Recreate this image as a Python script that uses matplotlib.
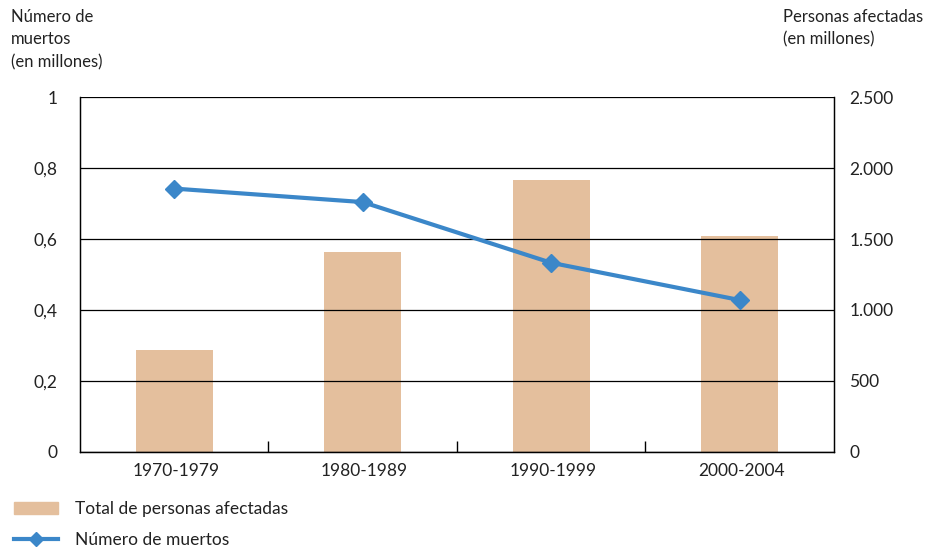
import matplotlib.pyplot as plt
from matplotlib.lines import Line2D
from matplotlib.patches import Patch
import numpy as np

plt.rcParams['font.family'] = ['Lato', 'DejaVu Sans']

periods = ["1970-1979", "1980-1989", "1990-1999", "2000-2004"]
afectados = [715, 1410, 1915, 1520]      # millones de personas (eje derecho)
muertos = [0.742, 0.704, 0.533, 0.428]   # millones (eje izquierdo)

bar_color = "#e4bf9d"
line_color = "#3b87c9"
txt = "#222222"
fs = 12.5

fig = plt.figure(figsize=(9.26, 5.49), dpi=100)
ax = fig.add_axes([0.0864, 0.1767, 0.8142, 0.6466])
ax2 = ax.twinx()

x = np.arange(len(periods))
ax2.bar(x, afectados, width=0.41, color=bar_color, zorder=2)
ax2.set_ylim(0, 2500)
ax2.set_yticks([0, 500, 1000, 1500, 2000, 2500])
ax2.set_yticklabels(["0", "500", "1.000", "1.500", "2.000", "2.500"])

ax.set_zorder(ax2.get_zorder() + 1)
ax.patch.set_visible(False)
ax.plot(x, muertos, color=line_color, lw=3, marker="D", markersize=9, zorder=3)
ax.set_ylim(0, 1)
ax.set_yticks([0, 0.2, 0.4, 0.6, 0.8, 1])
ax.set_yticklabels(["0", "0,2", "0,4", "0,6", "0,8", "1"])
ax.set_xlim(-0.5, 3.5)
ax.set_xticks(x + 0.01)
ax.set_xticklabels(periods)
ax.set_xticks([0.5, 1.5, 2.5], minor=True)
ax.tick_params(axis="x", which="major", length=0, pad=8)
ax.tick_params(axis="x", which="minor", direction="in", length=8, width=1)
ax.grid(axis="y", color="black", lw=0.9, zorder=1)
ax2.grid(False)

for a in (ax, ax2):
    a.spines["top"].set_visible(False)
    for s in a.spines.values():
        s.set_linewidth(0.9)
    a.tick_params(axis="y", length=0, labelsize=fs, colors=txt)
ax.tick_params(axis="y", pad=16)
ax2.tick_params(axis="y", pad=11)
ax.tick_params(axis="x", labelsize=fs, colors=txt)

fig.text(0.012, 0.984, "Número de\nmuertos\n(en millones)", ha="left", va="top",
         fontsize=12, color=txt, linespacing=1.5)
fig.text(0.997, 0.984, "Personas afectadas\n(en millones)", ha="right", va="top",
         fontsize=12, color=txt, linespacing=1.5, multialignment="left")

handles = [Patch(color=bar_color),
           Line2D([0], [0], color=line_color, lw=3, marker="D", markersize=7)]
fig.legend(handles, ["Total de personas afectadas", "Número de muertos"],
           loc="upper left", bbox_to_anchor=(0.008, 0.1), frameon=False,
           fontsize=fs, handlelength=2.5, labelspacing=0.85, handletextpad=1.0,
           labelcolor=txt, borderaxespad=0)

fig.savefig("out.png", dpi=100)
